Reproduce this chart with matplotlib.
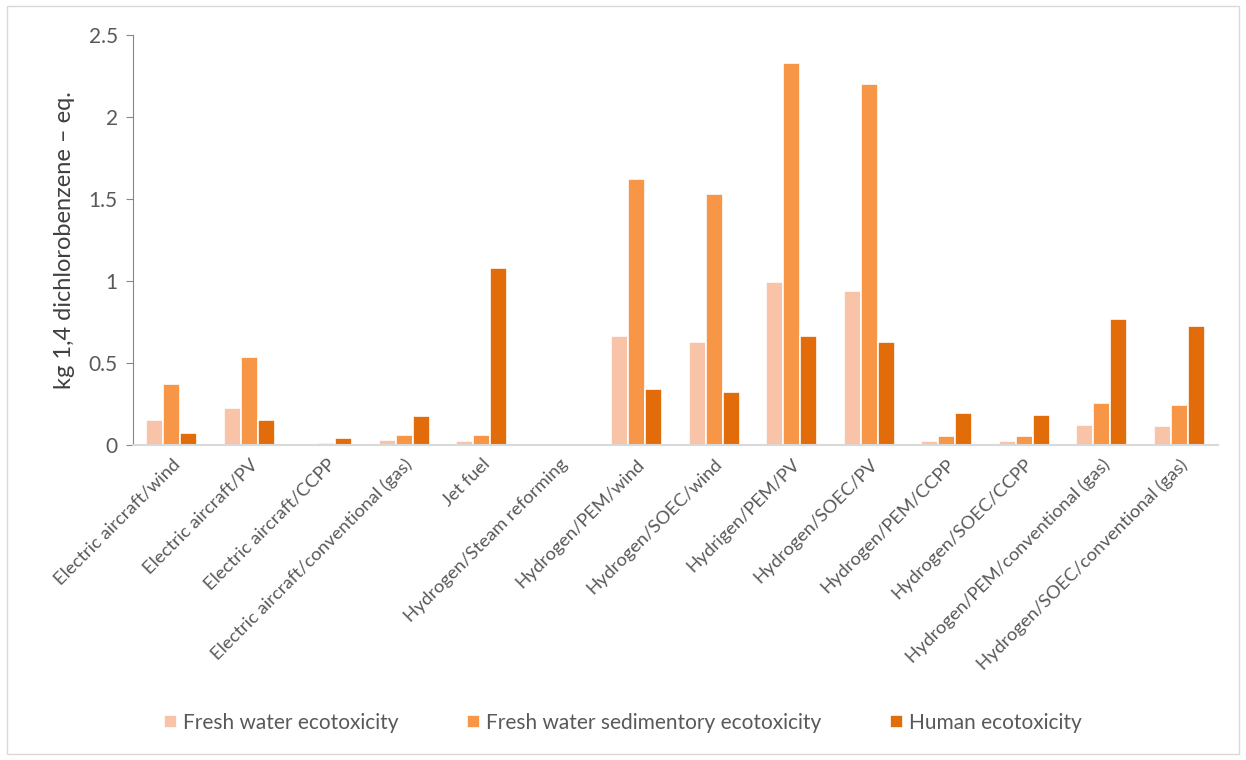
import numpy as np
import matplotlib
matplotlib.use("Agg")
from matplotlib import pyplot as plt
from matplotlib.patches import Rectangle

plt.rcParams['font.family'] = ['Lato', 'DejaVu Sans']

categories = ["Electric aircraft/wind", "Electric aircraft/PV", "Electric aircraft/CCPP",
              "Electric aircraft/conventional (gas)", "Jet fuel", "Hydrogen/Steam reforming",
              "Hydrogen/PEM/wind", "Hydrogen/SOEC/wind", "Hydrigen/PEM/PV", "Hydrogen/SOEC/PV",
              "Hydrogen/PEM/CCPP", "Hydrogen/SOEC/CCPP", "Hydrogen/PEM/conventional (gas)",
              "Hydrogen/SOEC/conventional (gas)"]

fresh_water = [0.152, 0.225, 0.0, 0.03, 0.022, 0.002, 0.665, 0.63, 0.995, 0.94, 0.025, 0.025, 0.12, 0.115]
sediment = [0.37, 0.535, 0.014, 0.062, 0.058, 0.001, 1.62, 1.53, 2.33, 2.2, 0.055, 0.055, 0.255, 0.245]
human = [0.075, 0.152, 0.045, 0.178, 1.08, 0.0, 0.34, 0.32, 0.665, 0.63, 0.195, 0.183, 0.77, 0.725]

series = [("Fresh water ecotoxicity", fresh_water, "#F9C3A7"),
          ("Fresh water sedimentory ecotoxicity", sediment, "#F79646"),
          ("Human ecotoxicity", human, "#E36C0A")]

fig = plt.figure(figsize=(12.46, 7.6), dpi=100)
ax = fig.add_axes([0.1067, 0.4145, 0.8708, 0.5395])

x = np.arange(len(categories))
w = 0.22
for k, (name, vals, col) in enumerate(series):
    ax.bar(x + (k - 1) * w, vals, width=w, color=col, edgecolor="white",
           linewidth=1.2, label=name)

ax.set_xlim(-0.5, len(categories) - 0.5)
ax.set_ylim(0, 2.5)
ax.set_yticks(np.arange(0, 2.51, 0.5))
ax.set_yticklabels(["0", "0.5", "1", "1.5", "2", "2.5"])
ax.set_xticks(x)
ax.set_xticklabels(categories, rotation=45, ha="right", rotation_mode="anchor",
                   fontsize=13.2, color="#595959")
ax.tick_params(axis="x", length=0, pad=8)
ax.tick_params(axis="y", length=5, color="#868686", labelsize=15,
               labelcolor="#595959", pad=6)

for s in ["top", "right"]:
    ax.spines[s].set_visible(False)
ax.spines["left"].set_color("#868686")
ax.spines["bottom"].set_color("#D9D9D9")
ax.spines["bottom"].set_linewidth(1.5)

ax.set_ylabel("kg 1,4 dichlorobenzene \u2013 eq.", fontsize=17, color="#404040", labelpad=10)

leg = fig.legend(loc="center", bbox_to_anchor=(0.5, 0.049), ncol=3, frameon=False,
                 fontsize=15, handlelength=0.6, handleheight=0.6, columnspacing=3.3,
                 handletextpad=0.3, labelcolor="#595959")

fig.patches.append(Rectangle((0.006, 0.008), 0.988, 0.984, transform=fig.transFigure,
                             fill=False, edgecolor="#D9D9D9", linewidth=1))

fig.savefig("out.png", dpi=100)
